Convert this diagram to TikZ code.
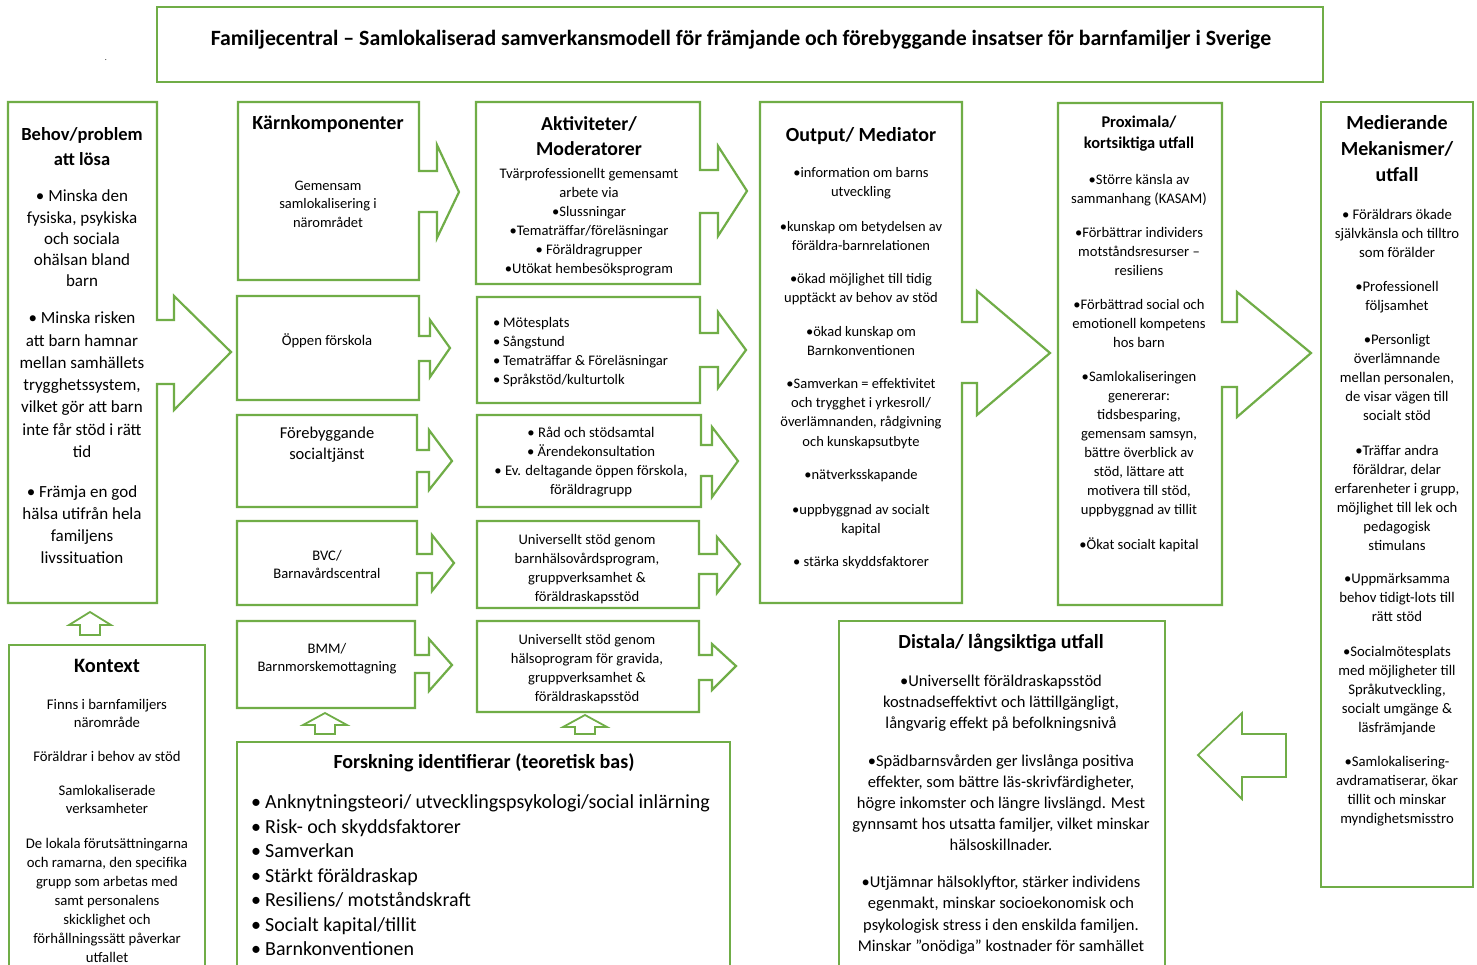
\documentclass[tikz,border=0pt]{standalone}
\usepackage{fontspec}
\setmainfont{Carlito}
\definecolor{grn}{RGB}{112,173,71}
\tikzset{
  outl/.style={draw=grn, line width=2.2pt, line join=miter, fill=white},
  upar/.style={draw=grn, line width=1.8pt, line join=miter, fill=white},
}
% name, x, ycenter, fontsize, baselineskip, text
\newcommand\ptx[6]{\node[anchor=north,align=center,inner sep=0pt,font=\fontsize{#4}{#5}\selectfont] (#1) at (#2,{#3-0.73*#4+1}) {\rule{0pt}{#4pt}#6};}
\newcommand\ptl[6]{\node[anchor=north west,align=left,inner sep=0pt,font=\fontsize{#4}{#5}\selectfont] (#1) at (#2,{#3-0.73*#4+1}) {\rule{0pt}{#4pt}#6};}
\newcommand\bul[1]{\makebox[#1][l]{•}}
\begin{document}
\begin{tikzpicture}[x=1pt,y=-1pt]
\useasboundingbox (0,0) rectangle (1477,964);
\fill[white] (0,0) rectangle (1477,964);
% ---------- outlines ----------
\draw[outl] (157,7) rectangle (1323,82);
\draw[outl] (8,102) -- (157,102) -- (157,320) -- (174,320) -- (174,296) -- (231,352) -- (174,410) -- (174,384) -- (157,384) -- (157,603) -- (8,603) -- cycle;
\draw[outl] (238,102) -- (419,102) -- (419,171) -- (437,171) -- (437,145) -- (459,192) -- (437,238) -- (437,212) -- (419,212) -- (419,280) -- (238,280) -- cycle;
\draw[outl] (237,296) -- (419,296) -- (419,336) -- (430,336) -- (430,320) -- (450,348) -- (430,377) -- (430,361) -- (419,361) -- (419,400) -- (237,400) -- cycle;
\draw[outl] (237,415) -- (417,415) -- (417,450) -- (429,450) -- (429,430) -- (452,461) -- (429,490) -- (429,472) -- (417,472) -- (417,507) -- (237,507) -- cycle;
\draw[outl] (237,521) -- (417,521) -- (417,554) -- (432,554) -- (432,535) -- (454,563) -- (432,591) -- (432,573) -- (417,573) -- (417,605) -- (237,605) -- cycle;
\draw[outl] (237,621) -- (415,621) -- (415,655) -- (429,655) -- (429,639) -- (452,665) -- (429,691) -- (429,673) -- (415,673) -- (415,708) -- (237,708) -- cycle;
\draw[outl] (476,102) -- (700,102) -- (700,170) -- (718,170) -- (718,146) -- (747,191) -- (718,236) -- (718,213) -- (700,213) -- (700,284) -- (476,284) -- cycle;
\draw[outl] (477,297) -- (700,297) -- (700,333) -- (718,333) -- (718,312) -- (746,350) -- (718,388) -- (718,367) -- (700,367) -- (700,403) -- (477,403) -- cycle;
\draw[outl] (477,415) -- (701,415) -- (701,445) -- (712,445) -- (712,427) -- (738,461) -- (712,497) -- (712,476) -- (701,476) -- (701,507) -- (477,507) -- cycle;
\draw[outl] (477,521) -- (699,521) -- (699,554) -- (717,554) -- (717,537) -- (740,564) -- (717,593) -- (717,574) -- (699,574) -- (699,608) -- (477,608) -- cycle;
\draw[outl] (477,621) -- (699,621) -- (699,655) -- (712,655) -- (712,644) -- (736,666) -- (712,690) -- (712,680) -- (699,680) -- (699,712) -- (477,712) -- cycle;
\draw[outl] (760,102) -- (962,102) -- (962,322) -- (977,322) -- (977,291) -- (1050,353) -- (977,415) -- (977,383) -- (962,383) -- (962,603) -- (760,603) -- cycle;
\draw[outl] (1058,103) -- (1222,103) -- (1222,322) -- (1237,322) -- (1237,292) -- (1311,353) -- (1237,417) -- (1237,387) -- (1222,387) -- (1222,605) -- (1058,605) -- cycle;
\draw[outl] (1321,102) rectangle (1473,887);
\draw[outl] (839,621) rectangle (1165,980);
\draw[outl] (9,645) rectangle (205,980);
\draw[outl] (237,742) rectangle (730,980);
\draw[upar] (1286,734) -- (1242,734) -- (1242,713) -- (1198,755) -- (1242,799) -- (1242,777) -- (1286,777) -- cycle;
\draw[upar] (80,635) -- (80,625) -- (69,625) -- (90,612) -- (111,625) -- (100,625) -- (100,635) -- cycle;
\draw[upar] (315,734) -- (315,725) -- (303,725) -- (325,713) -- (347,725) -- (335,725) -- (335,734) -- cycle;
\draw[upar] (575,734) -- (575,727) -- (563,727) -- (585,715) -- (607,727) -- (595,727) -- (595,734) -- cycle;
\node[inner sep=0pt,font=\fontsize{8}{8}\selectfont] (dot) at (106,60) {.};
% ---------- title ----------
\ptx{title}{741}{38}{21.8}{26}{\bfseries Familjecentral – Samlokaliserad samverkansmodell för främjande och förebyggande insatser för barnfamiljer i Sverige}
% ---------- Behov ----------
\ptx{behovH}{82}{134}{18.5}{25}{\bfseries Behov/problem\\\bfseries att lösa}
\ptx{behov1}{82}{196}{17}{21.3}{• Minska den\\fysiska, psykiska\\och sociala\\ohälsan bland\\barn}
\ptx{behov2}{82}{318}{17}{22.3}{• Minska risken\\att barn hamnar\\mellan samhällets\\trygghetssystem,\\vilket gör att barn\\inte får stöd i rätt\\tid}
\ptx{behov3}{82}{492}{17}{22}{• Främja en god\\hälsa utifrån hela\\familjens\\livssituation}
% ---------- Kärnkomponenter ----------
\ptx{karnH}{328}{123}{20}{22}{\bfseries Kärnkomponenter}
\ptx{karn1}{328}{185}{14.5}{18.7}{Gemensam\\samlokalisering i\\närområdet}
\ptx{oppen}{327}{340}{14.7}{18.5}{Öppen förskola}
\ptx{foreb}{327}{433}{16.5}{21}{Förebyggande\\socialtjänst}
\ptx{bvc}{327}{555}{14.6}{18.5}{BVC/\\Barnavårdscentral}
\ptx{bmm}{327}{648}{14.6}{18.5}{BMM/\\Barnmorskemottagning}
% ---------- Aktiviteter ----------
\ptx{aktH}{589}{124}{19.8}{25}{\bfseries Aktiviteter/\\\bfseries Moderatorer}
\ptx{akt1}{589}{173}{14.6}{19}{Tvärprofessionellt gemensamt\\arbete via\\•Slussningar\\•Tematräffar/föreläsningar\\• Föräldragrupper\\•Utökat hembesöksprogram}
\ptl{mote}{493}{322}{14.6}{19}{\bul{10pt}Mötesplats\\\bul{10pt}Sångstund\\\bul{10pt}Tematräffar \& Föreläsningar\\\bul{10pt}Språkstöd/kulturtolk}
\ptx{rad}{591}{432}{14.7}{19}{• Råd och stödsamtal\\• Ärendekonsultation\\• Ev. deltagande öppen förskola,\\föräldragrupp}
\ptx{univa}{587}{539}{14.6}{19}{Universellt stöd genom\\barnhälsovårdsprogram,\\gruppverksamhet \&\\föräldraskapsstöd}
\ptx{univb}{587}{639}{14.6}{19}{Universellt stöd genom\\hälsoprogram för gravida,\\gruppverksamhet \&\\föräldraskapsstöd}
% ---------- Output ----------
\ptx{outH}{861}{135}{20}{22}{\bfseries Output/ Mediator}
\ptx{out1}{861}{172}{14.5}{19.3}{•information om barns\\utveckling}
\ptx{out2}{861}{226}{14.5}{19.3}{•kunskap om betydelsen av\\föräldra-barnrelationen}
\ptx{out3}{861}{278}{14.5}{19.3}{•ökad möjlighet till tidig\\upptäckt av behov av stöd}
\ptx{out4}{861}{331}{14.5}{19.3}{•ökad kunskap om\\Barnkonventionen}
\ptx{out5}{861}{383}{14.5}{19.3}{•Samverkan = effektivitet\\och trygghet i yrkesroll/\\överlämnanden, rådgivning\\och kunskapsutbyte}
\ptx{out6}{861}{474}{14.5}{19.3}{•nätverksskapande}
\ptx{out7}{861}{509}{14.5}{19.3}{•uppbyggnad av socialt\\kapital}
\ptx{out8}{861}{561}{14.5}{19.3}{• stärka skyddsfaktorer}
% ---------- Proximala ----------
\ptx{proxH}{1139}{122}{16.4}{21}{\bfseries Proximala/\\\bfseries kortsiktiga utfall}
\ptx{prox1}{1139}{179}{14.6}{19}{•Större känsla av\\sammanhang (KASAM)}
\ptx{prox2}{1139}{232}{14.6}{19}{•Förbättrar individers\\motståndsresurser –\\resiliens}
\ptx{prox3}{1139}{304}{14.6}{19}{•Förbättrad social och\\emotionell kompetens\\hos barn}
\ptx{prox4}{1139}{376}{14.6}{19}{•Samlokaliseringen\\genererar:\\tidsbesparing,\\gemensam samsyn,\\bättre överblick av\\stöd, lättare att\\motivera till stöd,\\uppbyggnad av tillit}
\ptx{prox5}{1139}{544}{14.6}{19}{•Ökat socialt kapital}
% ---------- Medierande ----------
\ptx{medH}{1397}{123}{20}{26}{\bfseries Medierande\\\bfseries Mekanismer/\\\bfseries utfall}
\ptx{med1}{1397}{214}{14.7}{19}{• Föräldrars ökade\\självkänsla och tilltro\\som förälder}
\ptx{med2}{1397}{286}{14.7}{19}{•Professionell\\följsamhet}
\ptx{med3}{1397}{339}{14.7}{19}{•Personligt\\överlämnande\\mellan personalen,\\de visar vägen till\\socialt stöd}
\ptx{med4}{1397}{450}{14.7}{19}{•Träffar andra\\föräldrar, delar\\erfarenheter i grupp,\\möjlighet till lek och\\pedagogisk\\stimulans}
\ptx{med5}{1397}{578}{14.7}{19.3}{•Uppmärksamma\\behov tidigt-lots till\\rätt stöd}
\ptx{med6}{1397}{651}{14.7}{19}{•Socialmötesplats\\med möjligheter till\\Språkutveckling,\\socialt umgänge \&\\läsfrämjande}
\ptx{med7}{1397}{761}{14.7}{19}{•Samlokalisering-\\avdramatiserar, ökar\\tillit och minskar\\myndighetsmisstro}
% ---------- Kontext ----------
\ptx{kontH}{107}{666}{20.4}{22}{\bfseries Kontext}
\ptx{kont1}{107}{704}{14.7}{18.5}{Finns i barnfamiljers\\närområde}
\ptx{kont2}{107}{756}{14.7}{18.5}{Föräldrar i behov av stöd}
\ptx{kont3}{107}{790}{14.7}{18.5}{Samlokaliserade\\verksamheter}
\ptx{kont4}{107}{843}{14.7}{19}{De lokala förutsättningarna\\och ramarna, den specifika\\grupp som arbetas med\\samt personalens\\skicklighet och\\förhållningssätt påverkar\\utfallet}
% ---------- Forskning ----------
\ptx{forsH}{484}{762}{20}{22}{\bfseries Forskning identifierar (teoretisk bas)}
\ptl{fors1}{251}{802}{20}{24.5}{\bul{14pt}Anknytningsteori/ utvecklingspsykologi/social inlärning\\\bul{14pt}Risk- och skyddsfaktorer\\\bul{14pt}Samverkan\\\bul{14pt}Stärkt föräldraskap\\\bul{14pt}Resiliens/ motståndskraft\\\bul{14pt}Socialt kapital/tillit\\\bul{14pt}Barnkonventionen}
% ---------- Distala ----------
\ptx{distH}{1001}{642}{20}{22}{\bfseries Distala/ långsiktiga utfall}
\ptx{dist1}{1001}{681}{16.5}{21}{•Universellt föräldraskapsstöd\\kostnadseffektivt och lättillgängligt,\\långvarig effekt på befolkningsnivå}
\ptx{dist2}{1001}{761}{16.5}{21}{•Spädbarnsvården ger livslånga positiva\\effekter, som bättre läs-skrivfärdigheter,\\högre inkomster och längre livslängd. Mest\\gynnsamt hos utsatta familjer, vilket minskar\\hälsoskillnader.}
\ptx{dist3}{1001}{882}{16.5}{21.3}{•Utjämnar hälsoklyftor, stärker individens\\egenmakt, minskar socioekonomisk och\\psykologisk stress i den enskilda familjen.\\Minskar ”onödiga” kostnader för samhället}
\end{tikzpicture}
\end{document}
